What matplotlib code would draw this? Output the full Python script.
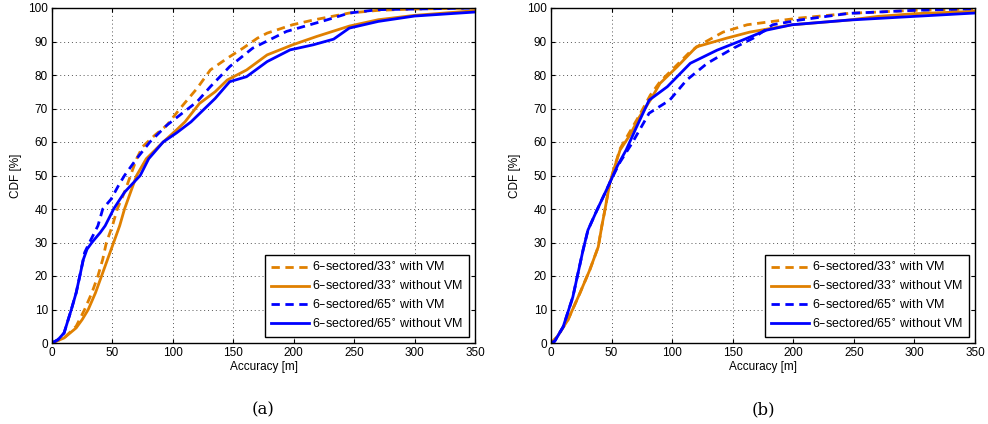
import matplotlib
matplotlib.use('Agg')
import matplotlib.pyplot as plt

# Panel (a) curves
a_o_dash_x = [0, 10, 20, 27, 33, 38, 42, 45, 50, 54, 60, 65, 70, 75, 85, 95, 106, 120, 131, 145, 158, 170, 178, 199, 216, 246, 270, 300, 350]
a_o_dash_y = [0, 1.5, 5, 10, 15, 20, 25, 30, 35, 40, 45, 50, 55, 58.6, 62, 65, 70, 76, 81.5, 85, 88, 91, 92.5, 95, 96.4, 98.5, 99.3, 99.7, 100]
a_o_sol_x = [0, 10, 20, 25, 30, 36, 41, 46, 51, 56, 60, 65, 70, 78, 92, 103, 110, 122, 135, 145, 161, 178, 199, 219, 246, 270, 300, 350]
a_o_sol_y = [0, 1.5, 4.5, 7, 10, 15, 20, 25, 30, 35, 40, 45, 50, 55, 60, 63.6, 66, 71.5, 75, 78.5, 81.5, 86, 89, 91.5, 94.6, 96.5, 97.8, 99.2]
a_b_dash_x = [0, 5, 10, 16, 20, 23, 27, 31, 38, 42, 49, 55, 60, 70, 81, 95, 111, 120, 131, 147, 166, 194, 227, 246, 270, 350]
a_b_dash_y = [0, 1, 3, 10, 15, 20, 27, 30, 35, 40, 43, 47, 50, 55, 60, 65, 69.5, 72, 76.5, 82.5, 88, 93, 96.4, 98.5, 99.5, 100]
a_b_sol_x = [0, 5, 10, 16, 20, 23, 26, 29, 33, 40, 44, 51, 60, 73, 80, 92, 103, 115, 125, 135, 147, 161, 178, 197, 216, 233, 246, 270, 300, 350]
a_b_sol_y = [0, 1, 3, 10, 15, 20, 25, 28, 30, 33, 35, 40, 45, 50, 55, 60, 62.7, 66, 69.5, 73, 78, 79.5, 84, 87.5, 89, 90.7, 94, 96, 97.6, 98.8]

# Panel (b) curves
b_o_dash_x = [0, 5, 14, 24, 32, 39, 42, 44.5, 48.5, 52, 57, 65, 73, 82, 90, 104, 115, 123, 142, 162, 183, 205, 246, 300, 350]
b_o_dash_y = [0, 1.8, 6.9, 15, 21.8, 28.7, 35, 39.7, 47.7, 52, 58, 63, 68, 74, 78, 83, 87, 89, 92.8, 95, 96, 97, 98.4, 99.3, 99.7]
b_o_sol_x = [0, 5, 14, 24, 32, 39, 42, 44.5, 48.5, 52, 57, 65, 73, 82, 90, 104, 120, 145, 164, 183, 199, 246, 270, 300, 350]
b_o_sol_y = [0, 1.8, 6.9, 15, 21.8, 28.7, 35, 39.7, 47.7, 52, 57.6, 62, 67.5, 72.5, 77.5, 82.4, 88.4, 91, 92.8, 94, 95, 96.4, 97.5, 98.3, 99]
b_b_dash_x = [0, 3, 10, 18, 26.5, 30.5, 38, 44.5, 50, 57, 67, 81, 98, 112, 129, 150, 167, 183, 205, 246, 300, 350]
b_b_dash_y = [0, 0.5, 4.8, 13.7, 27.8, 33.7, 39.7, 44.7, 49, 54, 59.7, 68.6, 72.5, 78.5, 83.5, 87.9, 91, 95, 96.4, 98.4, 99.3, 99.8]
b_b_sol_x = [0, 3, 10, 18, 26.5, 30.5, 38, 44.5, 50, 55, 62, 70, 81, 96, 115, 137, 158, 178, 199, 246, 300, 350]
b_b_sol_y = [0, 0.5, 4.8, 13.7, 27.8, 33.7, 39.7, 44.7, 49, 53, 57.6, 64, 72.5, 76.5, 83.5, 87.4, 90.4, 93.4, 95, 96.4, 97.5, 98.5]

labels = ['6\u2013sectored/33$^{\\circ}$ with VM',
          '6\u2013sectored/33$^{\\circ}$ without VM',
          '6\u2013sectored/65$^{\\circ}$ with VM',
          '6\u2013sectored/65$^{\\circ}$ without VM']

ORANGE = '#E08000'
BLUE = '#0000FF'

plt.rcParams['font.family'] = ['Liberation Sans', 'DejaVu Sans']
plt.rcParams['mathtext.fontset'] = 'dejavusans'

fig = plt.figure(figsize=(9.88, 4.24), dpi=100)
ax1 = fig.add_axes([52 / 988, 1 - 343 / 424, 423 / 988, 335 / 424])
ax2 = fig.add_axes([551 / 988, 1 - 343 / 424, 424 / 988, 335 / 424])

panels = [
    (ax1, [(a_o_dash_x, a_o_dash_y), (a_o_sol_x, a_o_sol_y), (a_b_dash_x, a_b_dash_y), (a_b_sol_x, a_b_sol_y)], '(a)'),
    (ax2, [(b_o_dash_x, b_o_dash_y), (b_o_sol_x, b_o_sol_y), (b_b_dash_x, b_b_dash_y), (b_b_sol_x, b_b_sol_y)], '(b)'),
]
styles = [(ORANGE, '--'), (ORANGE, '-'), (BLUE, '--'), (BLUE, '-')]

for ax, curves, cap in panels:
    for (xs, ys), (c, ls), lab in zip(curves, styles, labels):
        line, = ax.plot(xs, ys, color=c, linestyle=ls, lw=2, label=lab)
        if ls == '--':
            line.set_dashes((3, 2))
    ax.set_xlim(0, 350)
    ax.set_ylim(0, 100)
    ax.set_xticks(range(0, 351, 50))
    ax.set_yticks(range(0, 101, 10))
    ax.grid(True, linestyle=(0, (1, 3)), color='#555555', lw=0.7)
    ax.tick_params(direction='in', top=True, right=True, labelsize=8.5, length=3, pad=3)
    ax.set_xlabel('Accuracy [m]', fontsize=8.5, labelpad=1)
    ax.set_ylabel('CDF [%]', fontsize=8.5, labelpad=4)
    for s in ax.spines.values():
        s.set_linewidth(1.0)
    leg = ax.legend(loc='lower right', fontsize=9, frameon=True, fancybox=False,
                    edgecolor='black', framealpha=1, borderaxespad=0.5,
                    handlelength=3.0, handletextpad=0.25, labelspacing=0.45,
                    borderpad=0.5)
    leg.get_frame().set_linewidth(1.0)
    ax.text(0.5, -0.2, cap, transform=ax.transAxes, ha='center', va='center',
            fontsize=12, family=['DejaVu Serif'])

fig.savefig('out.png', dpi=100)
